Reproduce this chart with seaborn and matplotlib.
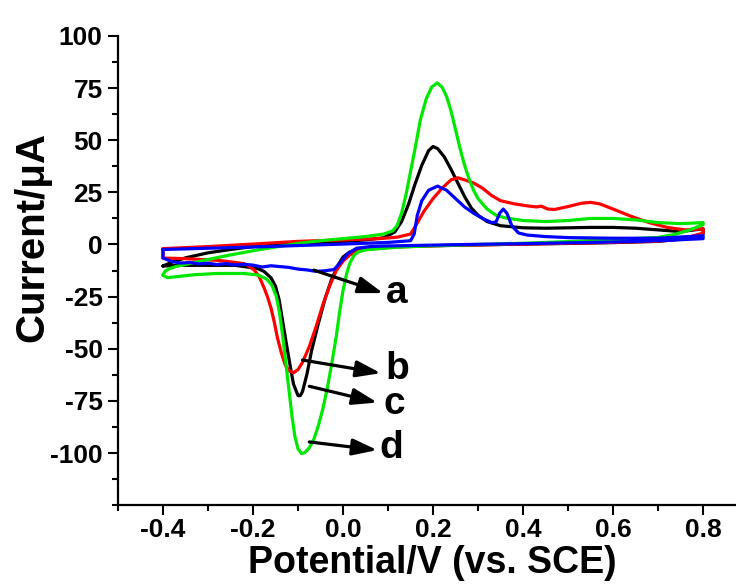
import numpy as np
import pandas as pd
import matplotlib
matplotlib.use('Agg')
import matplotlib.pyplot as plt
import seaborn as sns
from matplotlib.ticker import MultipleLocator

# curve a (blue): forward scan then reverse scan
a_E = [-0.40, -0.30, -0.20, -0.10, 0.00, 0.10, 0.15, 0.158, 0.165, 0.175, 0.19, 0.21, 0.23, 0.25, 0.27,
       0.29, 0.31, 0.33, 0.34, 0.348, 0.356, 0.364, 0.375, 0.39, 0.41, 0.45, 0.50, 0.60, 0.70, 0.80,
       0.80, 0.70, 0.60, 0.50, 0.40, 0.30, 0.20, 0.10, 0.06, 0.03, 0.01, -0.005, -0.02, -0.04, -0.06,
       -0.08, -0.10, -0.12, -0.14, -0.16, -0.18, -0.20, -0.22, -0.24, -0.26, -0.28, -0.30, -0.32, -0.34,
       -0.36, -0.38, -0.40, -0.40]
a_I = [-2.4, -1.8, -1.2, -0.5, 0.2, 1.0, 1.8, 5.0, 14.0, 21.0, 26.0, 28.0, 26.0, 22.0, 18.0,
       15.0, 12.5, 10.5, 10.8, 15.0, 17.0, 15.0, 9.0, 5.5, 4.5, 3.8, 3.3, 3.0, 3.0, 4.2,
       2.8, 1.8, 1.2, 0.8, 0.4, 0.1, -0.3, -0.7, -1.0, -1.8, -4.5, -8.5, -12.0, -12.6, -12.9,
       -12.2, -11.8, -11.0, -10.6, -10.2, -10.8, -9.9, -9.5, -9.8, -9.2, -9.6, -9.0, -9.3, -8.6,
       -8.9, -8.2, -6.5, -2.4]

# curve b (red)
b_E = [-0.40, -0.30, -0.20, -0.10, 0.00, 0.08, 0.12, 0.15, 0.16, 0.18, 0.20, 0.22, 0.24, 0.255, 0.27,
       0.29, 0.31, 0.33, 0.35, 0.38, 0.41, 0.43, 0.44, 0.455, 0.47, 0.50, 0.53, 0.55, 0.57, 0.60,
       0.64, 0.68, 0.72, 0.76, 0.80,
       0.80, 0.76, 0.70, 0.60, 0.50, 0.40, 0.30, 0.20, 0.12, 0.08, 0.05, 0.03, 0.015, 0.00, -0.015,
       -0.03, -0.045, -0.06, -0.075, -0.09, -0.10, -0.11, -0.12, -0.128, -0.137, -0.146, -0.153, -0.16,
       -0.168, -0.175, -0.186, -0.197, -0.21, -0.22, -0.25, -0.28, -0.35, -0.40, -0.40]
b_I = [-2.0, -1.0, 0.2, 1.5, 2.2, 2.8, 3.5, 5.0, 8.5, 16.0, 22.0, 27.0, 31.0, 32.0, 31.0,
       29.5, 27.0, 23.5, 21.0, 19.5, 18.5, 18.0, 18.4, 17.0, 16.8, 18.2, 19.8, 20.2, 19.5, 17.0,
       13.5, 10.5, 8.2, 7.0, 7.5,
       5.5, 3.0, 1.6, 1.0, 0.6, 0.2, -0.2, -0.6, -1.2, -1.7, -2.4, -3.5, -5.0, -8.0, -12.5,
       -20.0, -29.0, -39.5, -49.0, -56.5, -60.0, -61.5, -60.5, -58.0, -52.0, -44.5, -37.0, -30.5,
       -25.0, -21.0, -15.5, -12.3, -10.2, -9.2, -8.3, -7.6, -6.8, -6.5, -2.0]

# curve c (black)
c_E = [-0.40, -0.38, -0.35, -0.30, -0.25, -0.20, -0.15, -0.10, -0.05, 0.00, 0.05, 0.09, 0.115, 0.13,
       0.145, 0.16, 0.175, 0.19, 0.20, 0.21, 0.225, 0.24, 0.255, 0.27, 0.285, 0.30, 0.32, 0.35, 0.40,
       0.45, 0.50, 0.55, 0.60, 0.65, 0.70, 0.75, 0.80,
       0.80, 0.75, 0.70, 0.60, 0.50, 0.40, 0.30, 0.20, 0.12, 0.08, 0.05, 0.03, 0.015, 0.00, -0.01,
       -0.025, -0.04, -0.055, -0.07, -0.08, -0.09, -0.095, -0.10, -0.11, -0.116, -0.124, -0.131,
       -0.137, -0.142, -0.15, -0.16, -0.175, -0.19, -0.24, -0.30, -0.36, -0.40]
c_I = [-10.3, -8.5, -6.4, -4.0, -2.4, -1.0, -0.1, 0.5, 1.0, 1.5, 2.2, 3.2, 6.0, 11.0,
       19.0, 29.0, 38.0, 45.0, 47.0, 46.0, 42.0, 36.0, 29.5, 23.0, 17.5, 14.0, 11.0, 9.0, 8.0,
       7.8, 8.0, 8.2, 8.2, 7.8, 7.0, 6.2, 7.5,
       5.0, 2.5, 1.5, 0.9, 0.5, 0.2, -0.2, -0.6, -1.0, -1.2, -1.6, -2.4, -3.6, -6.0, -9.5,
       -16.5, -26.0, -38.0, -51.0, -62.0, -70.5, -72.5, -72.5, -67.0, -60.0, -50.0, -41.0,
       -33.0, -26.5, -20.0, -16.0, -13.0, -11.5, -10.0, -10.0, -10.0, -10.3]

# curve d (green)
d_E = [-0.40, -0.395, -0.385, -0.37, -0.35, -0.30, -0.25, -0.20, -0.15, -0.10, -0.05, 0.00, 0.05, 0.09,
       0.11, 0.12, 0.13, 0.14, 0.15, 0.16, 0.172, 0.185, 0.197, 0.209, 0.22, 0.23, 0.24, 0.25, 0.26,
       0.27, 0.28, 0.29, 0.30, 0.32, 0.34, 0.36, 0.40, 0.45, 0.50, 0.55, 0.60, 0.65, 0.70, 0.75, 0.80,
       0.80, 0.77, 0.74, 0.70, 0.60, 0.50, 0.40, 0.30, 0.20, 0.12, 0.08, 0.05, 0.035, 0.025, 0.015,
       0.008, 0.00, -0.008, -0.015, -0.025, -0.035, -0.045, -0.055, -0.065, -0.075, -0.085, -0.092,
       -0.10, -0.107, -0.113, -0.12, -0.127, -0.134, -0.141, -0.148, -0.158, -0.17, -0.19, -0.22,
       -0.28, -0.33, -0.36, -0.39, -0.40]
d_I = [-14.5, -12.8, -11.5, -10.5, -9.6, -7.2, -5.0, -3.0, -1.2, 0.5, 1.8, 2.8, 3.8, 5.0,
       6.5, 9.0, 15.0, 24.0, 35.0, 46.0, 60.0, 70.0, 75.5, 77.5, 75.5, 71.0, 64.0, 55.0, 46.0,
       38.0, 31.5, 26.0, 22.0, 17.0, 14.0, 12.8, 11.5, 11.0, 11.5, 12.5, 12.5, 11.8, 10.5, 10.0, 10.5,
       9.5, 7.0, 5.0, 3.4, 2.3, 1.4, 0.6, 0.0, -0.6, -1.3, -2.0, -2.6, -3.5, -5.0, -9.0,
       -14.0, -22.0, -33.0, -44.0, -57.0, -69.0, -79.0, -87.0, -93.5, -97.5, -99.8, -100.3,
       -98.0, -92.0, -83.0, -70.0, -57.0, -44.0, -33.0, -25.0, -19.5, -16.5, -14.6, -13.9,
       -13.9, -14.5, -15.2, -15.9, -14.8]

curves = [('c', c_E, c_I, 'black'), ('b', b_E, b_I, '#ff0000'),
          ('d', d_E, d_I, '#00e800'), ('a', a_E, a_I, '#0000ff')]

# arrow labels: tail (E, I) -> head (E, I), text position
labels = ['a', 'b', 'c', 'd']
arrow_tail = [(-0.065, -12.3), (-0.09, -55.4), (-0.075, -68.0), (-0.075, -94.7)]
arrow_head = [(0.089, -23.3), (0.084, -61.7), (0.076, -75.8), (0.076, -98.6)]
label_pos = [(0.12, -23.5), (0.12, -59.5), (0.113, -76.5), (0.107, -97.5)]

sns.set_style('ticks')
plt.rcParams['font.family'] = ['Liberation Sans', 'DejaVu Sans']
plt.rcParams['font.weight'] = 'bold'
plt.rcParams['text.color'] = 'black'
plt.rcParams['axes.labelcolor'] = 'black'
plt.rcParams['xtick.color'] = 'black'
plt.rcParams['ytick.color'] = 'black'

fig = plt.figure(figsize=(7.36, 5.86), dpi=100)
ax = fig.add_axes([0.1603, 0.138, 0.8397, 0.8006])

for name, E, I, col in curves:
    df = pd.DataFrame({'E': E, 'I': I})
    sns.lineplot(data=df, x='E', y='I', sort=False, estimator=None, color=col, lw=2.3, ax=ax)

for lab, t, h, p in zip(labels, arrow_tail, arrow_head, label_pos):
    ax.annotate('', xy=h, xytext=t,
                arrowprops=dict(arrowstyle='-|>,head_length=1.5,head_width=0.5', lw=2.3,
                                color='black', shrinkA=0, shrinkB=0))
    ax.text(p[0], p[1], lab, fontsize=28, fontweight='bold', ha='center', va='center',
            color='black')

ax.set_xlim(-0.5, 0.873)
ax.set_ylim(-125, 100)
ax.xaxis.set_minor_locator(MultipleLocator(0.1))
ax.yaxis.set_minor_locator(MultipleLocator(12.5))
ax.set_xticks(np.arange(-0.4, 0.81, 0.2))
ax.set_xticklabels(['-0.4', '-0.2', '0.0', '0.2', '0.4', '0.6', '0.8'])
ax.set_yticks(np.arange(-100, 101, 25))
ax.set_yticklabels([str(v) for v in range(-100, 101, 25)])
ax.tick_params(which='major', direction='out', length=7.5, width=1.5, pad=3.5,
               labelsize=19, colors='black')
ax.tick_params(axis='x', which='major', pad=1.5)
ax.tick_params(which='minor', direction='out', length=4, width=1.5, colors='black')
for lbl in ax.get_xticklabels() + ax.get_yticklabels():
    lbl.set_fontweight('bold')

for s in ['top', 'right']:
    ax.spines[s].set_visible(False)
for s in ['left', 'bottom']:
    ax.spines[s].set_linewidth(1.6)
    ax.spines[s].set_color('black')

ax.set_xlabel('Potential/V (vs. SCE)', fontsize=27, fontweight='bold', color='black')
ax.set_ylabel('Current/μA', fontsize=29, fontweight='bold', color='black')
ax.xaxis.set_label_coords(0.508, -0.085)
ax.yaxis.set_label_coords(-0.107, 0.571)

fig.savefig('out.png', dpi=100)
